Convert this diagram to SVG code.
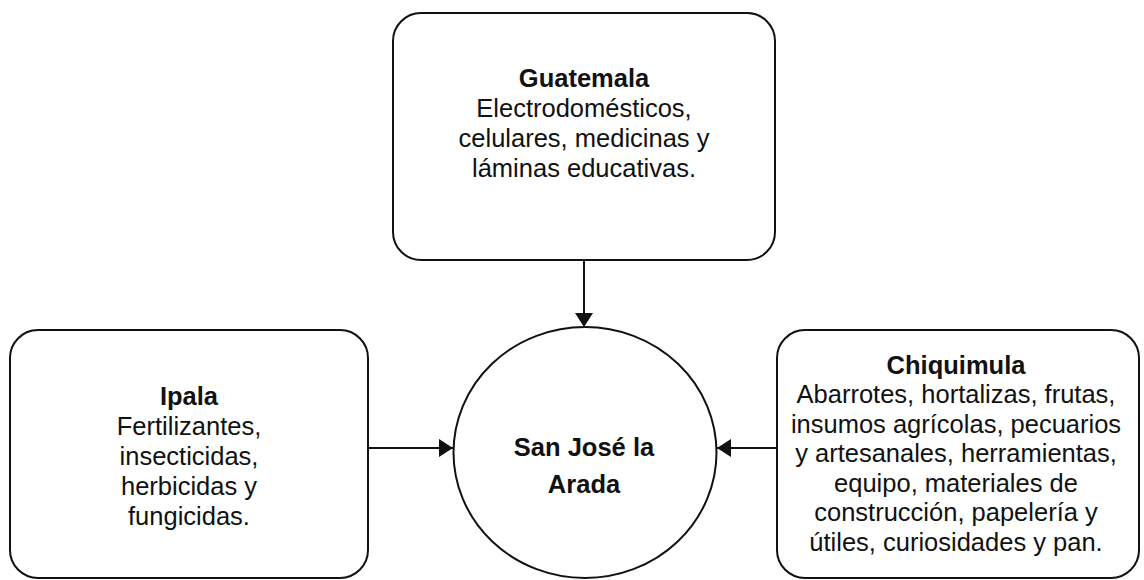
<svg xmlns="http://www.w3.org/2000/svg" width="1144" height="580" viewBox="0 0 1144 580">
<style>
.box{fill:#fff;stroke:#111;stroke-width:2}
.t{font-family:"Liberation Sans",Arial,sans-serif;font-size:25.5px;fill:#111;text-anchor:middle}
.b{font-weight:bold}
.c{stroke:#111;stroke-width:2;fill:none}
</style>
<defs>
<marker id="ah" markerWidth="14" markerHeight="18" refX="14" refY="9" orient="auto" markerUnits="userSpaceOnUse">
<path d="M0,0 L14,9 L0,18 Z" fill="#111"/>
</marker>
</defs>
<rect width="1144" height="580" fill="#fff"/>
<g id="guatemala">
<rect class="box" x="393" y="13" width="382" height="247" rx="28" ry="28"/>
<text class="t b" x="584" y="87">Guatemala</text>
<text class="t" x="584" y="117">Electrodomésticos,</text>
<text class="t" x="584" y="147">celulares, medicinas y</text>
<text class="t" x="584" y="177">láminas educativas.</text>
</g>
<g id="ipala">
<rect class="box" x="10" y="330" width="358" height="248" rx="28" ry="28"/>
<text class="t b" x="189" y="405">Ipala</text>
<text class="t" x="189" y="435">Fertilizantes,</text>
<text class="t" x="189" y="465">insecticidas,</text>
<text class="t" x="189" y="495">herbicidas y</text>
<text class="t" x="189" y="525">fungicidas.</text>
</g>
<g id="chiquimula">
<rect class="box" x="777" y="330" width="362" height="248" rx="28" ry="28"/>
<text class="t b" x="956" y="374">Chiquimula</text>
<text class="t" x="956" y="403">Abarrotes, hortalizas, frutas,</text>
<text class="t" x="956" y="433">insumos agrícolas, pecuarios</text>
<text class="t" x="956" y="462">y artesanales, herramientas,</text>
<text class="t" x="956" y="492">equipo, materiales de</text>
<text class="t" x="956" y="521">construcción, papelería y</text>
<text class="t" x="956" y="551">útiles, curiosidades y pan.</text>
</g>
<g id="sanjose">
<ellipse class="box" cx="585" cy="452.5" rx="131.5" ry="125.5"/>
<text class="t b" x="584" y="456">San José la</text>
<text class="t b" x="584" y="493">Arada</text>
</g>
<g id="connectors">
<line class="c" x1="584" y1="260" x2="584" y2="327" marker-end="url(#ah)"/>
<line class="c" x1="368" y1="448" x2="453" y2="448" marker-end="url(#ah)"/>
<line class="c" x1="777" y1="448" x2="717" y2="448" marker-end="url(#ah)"/>
</g>
</svg>
